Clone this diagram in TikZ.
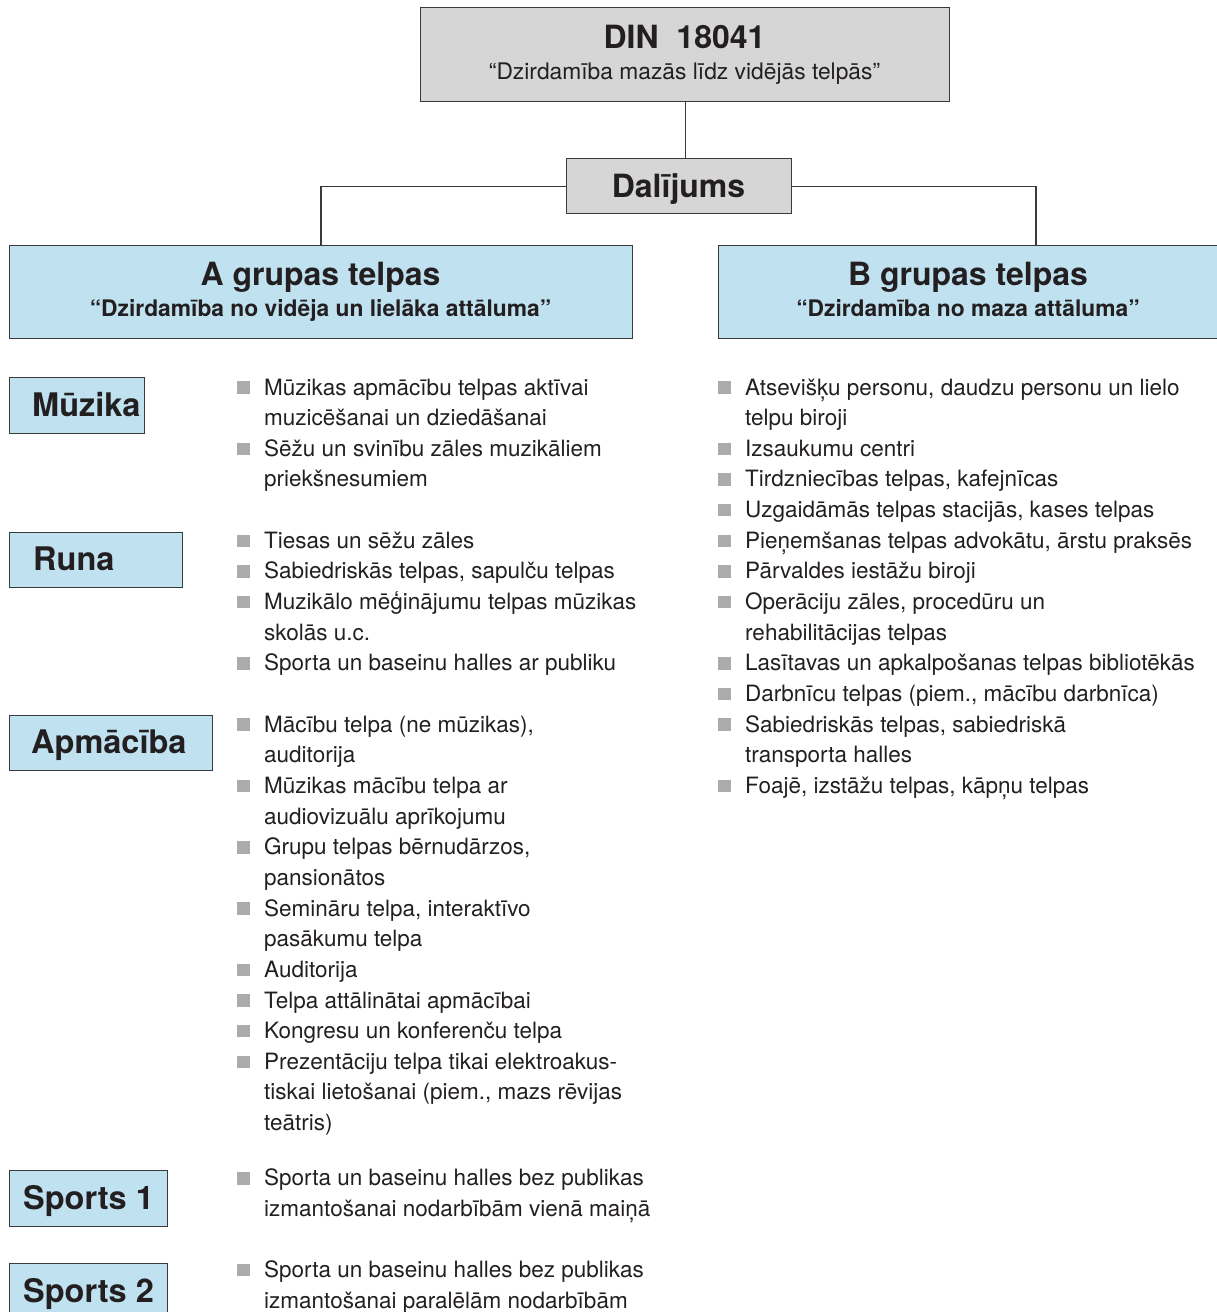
\documentclass[tikz,border=0pt]{standalone}
\usepackage{fontspec}
\setmainfont{TeX Gyre Heros}
\usetikzlibrary{positioning}
\definecolor{boxgray}{HTML}{D6D6D6}
\definecolor{boxblue}{HTML}{BFE1F0}
\definecolor{bulletgray}{HTML}{ABABAD}
\definecolor{linegray}{HTML}{3A3A3A}
\definecolor{inkblack}{HTML}{231F20}
\newcommand{\itemlines}[1]{\begin{tabular}[t]{@{}l@{}}#1\end{tabular}}

\begin{document}
\begin{tikzpicture}[x=1pt,y=-1pt,
		box/.style={draw=linegray, line width=1.3pt, inner sep=0pt, anchor=north west},
		graybox/.style={box, fill=boxgray},
		bluebox/.style={box, fill=boxblue},
		bigtitle/.style={font=\fontsize{32}{32}\selectfont\bfseries, text=inkblack, inner sep=0pt, anchor=base},
		subtitle/.style={font=\fontsize{22.8}{22.8}\selectfont, text=inkblack, inner sep=0pt, anchor=base},
		cattext/.style={font=\fontsize{32.5}{32.5}\selectfont\bfseries, text=inkblack, inner sep=0pt, anchor=base west},
		item/.style={font=\fontsize{22.5}{30.65}\selectfont, text=inkblack, inner sep=0pt, anchor=base west},
		bullet/.style={fill=bulletgray, minimum size=12.5pt, inner sep=0pt},
		link/.style={draw=linegray, line width=1.1pt}]
		\useasboundingbox (0,0) rectangle (1217,1312);
		% top of the tree
		\node[graybox, minimum width=529, minimum height=94] (din) at (420,7) {};
		\node[bigtitle] (dintitle) at (684.5,48) {DIN~~18041};
		\node[subtitle] (dinsub) at (684.5,79) {“Dzirdamība mazās līdz vidējās telpās”};
		\node[graybox, minimum width=225, minimum height=55] (dal) at (566,158) {};
		\node[bigtitle] (daltitle) at (678.5,197) {Dalījums};
		\node[bluebox, minimum width=623, minimum height=93] (agrp) at (9,245) {};
		\node[bigtitle] (atitle) at (320.5,285) {A grupas telpas};
		\node[subtitle, font=\fontsize{22.8}{22.8}\selectfont\bfseries] (asub) at (320.5,316) {“Dzirdamība no vidēja un lielāka attāluma”};
		\node[bluebox, minimum width=500, minimum height=93] (bgrp) at (718,245) {};
		\node[bigtitle] (btitle) at (968,285) {B grupas telpas};
		\node[subtitle, font=\fontsize{22.8}{22.8}\selectfont\bfseries] (bsub) at (968,316) {“Dzirdamība no maza attāluma”};
		\coordinate (ajoin) at (321,245);
		\coordinate (bjoin) at (1036,245);
		\draw[link] (din.south) -- (din.south |- dal.north);
		\draw[link] (dal.west) -| (ajoin);
		\draw[link] (dal.east) -| (bjoin);
		% categories of group A
		\node[bluebox, minimum width=135, minimum height=56] (muzika) at (9,377) {};
		\node[cattext] (muzikatxt) at (32,416) {Mūzika};
		\node[bluebox, minimum width=173, minimum height=55] (runa) at (9,532) {};
		\node[cattext] (runatxt) at (33,570.5) {Runa};
		\node[bluebox, minimum width=203, minimum height=55] (apmaciba) at (9,715) {};
		\node[cattext] (apmacibatxt) at (31,753.5) {Apmācība};
		\node[bluebox, minimum width=158, minimum height=56] (sportsa) at (9,1170) {};
		\node[cattext] (sportsatxt) at (23,1209) {Sports 1};
		\node[bluebox, minimum width=158, minimum height=56] (sportsb) at (9,1263) {};
		\node[cattext] (sportsbtxt) at (23,1302) {Sports 2};
		% items of group A
		\foreach \n/\txt [count=\i] in {0/{Mūzikas apmācību telpas aktīvai\\muzicēšanai un dziedāšanai},
				2/{Sēžu un svinību zāles muzikāliem\\priekšnesumiem},
				5/{Tiesas un sēžu zāles},
				6/{Sabiedriskās telpas, sapulču telpas},
				7/{Muzikālo mēģinājumu telpas mūzikas\\skolās u.c.},
				9/{Sporta un baseinu halles ar publiku},
				11/{Mācību telpa (ne mūzikas),\\auditorija},
				13/{Mūzikas mācību telpa ar\\audiovizuālu aprīkojumu},
				15/{Grupu telpas bērnudārzos,\\pansionātos},
				17/{Semināru telpa, interaktīvo\\pasākumu telpa},
				19/{Auditorija},
				20/{Telpa attālinātai apmācībai},
				21/{Kongresu un konferenču telpa},
				22/{Prezentāciju telpa tikai elektroakus-\\tiskai lietošanai (piem., mazs rēvijas\\teātris)},
				25.8/{Sporta un baseinu halles bez publikas\\izmantošanai nodarbībām vienā maiņā},
				28.8/{Sporta un baseinu halles bez publikas\\izmantošanai paralēlām nodarbībām}}{
			\node[item] (aitem\i) at (264,395+30.65*\n) {\itemlines{\txt}};
			\node[bullet] (abullet\i) at (243.5,387.5+30.65*\n) {};
		}
		% items of group B
		\foreach \n/\txt [count=\i] in {0/{Atsevišķu personu, daudzu personu un lielo\\telpu biroji},
				2/{Izsaukumu centri},
				3/{Tirdzniecības telpas, kafejnīcas},
				4/{Uzgaidāmās telpas stacijās, kases telpas},
				5/{Pieņemšanas telpas advokātu, ārstu praksēs},
				6/{Pārvaldes iestāžu biroji},
				7/{Operāciju zāles, procedūru un\\rehabilitācijas telpas},
				9/{Lasītavas un apkalpošanas telpas bibliotēkās},
				10/{Darbnīcu telpas (piem., mācību darbnīca)},
				11/{Sabiedriskās telpas, sabiedriskā\\transporta halles},
				13/{Foajē, izstāžu telpas, kāpņu telpas}}{
			\node[item] (bitem\i) at (745,395+30.65*\n) {\itemlines{\txt}};
			\node[bullet] (bbullet\i) at (724.5,387.5+30.65*\n) {};
		}
	\end{tikzpicture}
\end{document}
